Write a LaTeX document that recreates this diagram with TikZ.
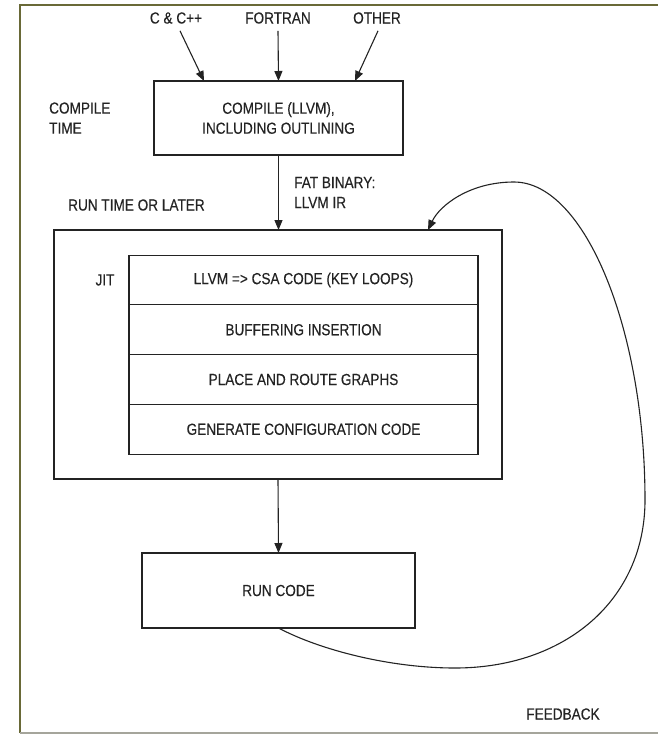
\documentclass[tikz,border=0pt]{standalone}
\usepackage{fontspec}
\setmainfont[FakeStretch=0.85,FakeBold=0.3]{Liberation Sans}
\usetikzlibrary{arrows.meta,positioning}
\definecolor{frameolive}{RGB}{105,105,55}
\definecolor{framegray}{RGB}{165,165,155}
\definecolor{inkgray}{RGB}{35,35,35}
\tikzset{
  lbl/.style={font=\fontsize{16}{20}\selectfont, text=inkgray, inner sep=0pt},
  box/.style={draw=inkgray, line width=1.1pt, outer sep=0pt, inner sep=0pt,
    font=\fontsize{16}{20}\selectfont, text=inkgray, align=center},
  rowbox/.style={box, minimum width=349pt, minimum height=49.75pt},
  flow/.style={draw=inkgray, line width=1.1pt, -{Triangle[length=10pt,width=8pt]}},
}
\begin{document}
\begin{tikzpicture}[x=1pt,y=-1pt]
    \useasboundingbox (0,0) rectangle (658,734);
    % page frame
    \draw[frameolive, line width=2pt] (20,733) -- (20,5) -- (658,5);
    \draw[framegray, line width=2pt] (20,733) -- (658,733);

    % compile time
    \node[lbl] (cc) at (176,18) {C \& C++};
    \node[lbl] (fortran) at (278,18) {FORTRAN};
    \node[lbl] (other) at (377,18) {OTHER};
    \node[box, minimum width=249pt, minimum height=74pt] (compile) at (278.5,118)
        {COMPILE (LLVM),\\INCLUDING OUTLINING};
    \node[lbl, align=left, anchor=west] (ctime) at (49,118) {COMPILE\\TIME};
    \draw[flow] ([xshift=4pt,yshift=-7pt]cc.south) -- ([xshift=-74.5pt]compile.north);
    \draw[flow] ([yshift=-7pt]fortran.south) -- (compile.north);
    \draw[flow] ([xshift=1pt,yshift=-7pt]other.south) -- ([xshift=76.5pt]compile.north);

    % run time
    \node[lbl, align=left, anchor=west] (rtime) at (68,205) {RUN TIME OR LATER};
    \node[box, minimum width=448pt, minimum height=249pt] (jit) at (278,354.5) {};
    \draw[flow] (compile.south) -- (compile.south |- jit.north);
    \node[lbl, align=left, anchor=west] (fat) at (294,192.5) {FAT BINARY:\\LLVM IR};
    \node[lbl] (jitlbl) at (105,280) {JIT};
    \node[rowbox] (csa) at (303.5,280) {LLVM => CSA CODE (KEY LOOPS)};
    \node[rowbox, below=0pt of csa] (buf) {BUFFERING INSERTION};
    \node[rowbox, below=0pt of buf] (route) {PLACE AND ROUTE GRAPHS};
    \node[rowbox, below=0pt of route] (config) {GENERATE CONFIGURATION CODE};

    % run and feedback
    \node[box, minimum width=273pt, minimum height=75pt] (run) at (278.5,590.5) {RUN CODE};
    \draw[flow] (jit.south) -- (run.north);
    \draw[flow] (run.south) .. controls (320,650) and (390,668) .. (455,668)
        .. controls (565,668) and (645,600) .. (645,500)
        .. controls (645,330) and (585,182) .. (514,182)
        .. controls (470,182) and (440,205) .. ([xshift=150pt]jit.north);
    \node[lbl] (feedback) at (563,714) {FEEDBACK};
\end{tikzpicture}
\end{document}
